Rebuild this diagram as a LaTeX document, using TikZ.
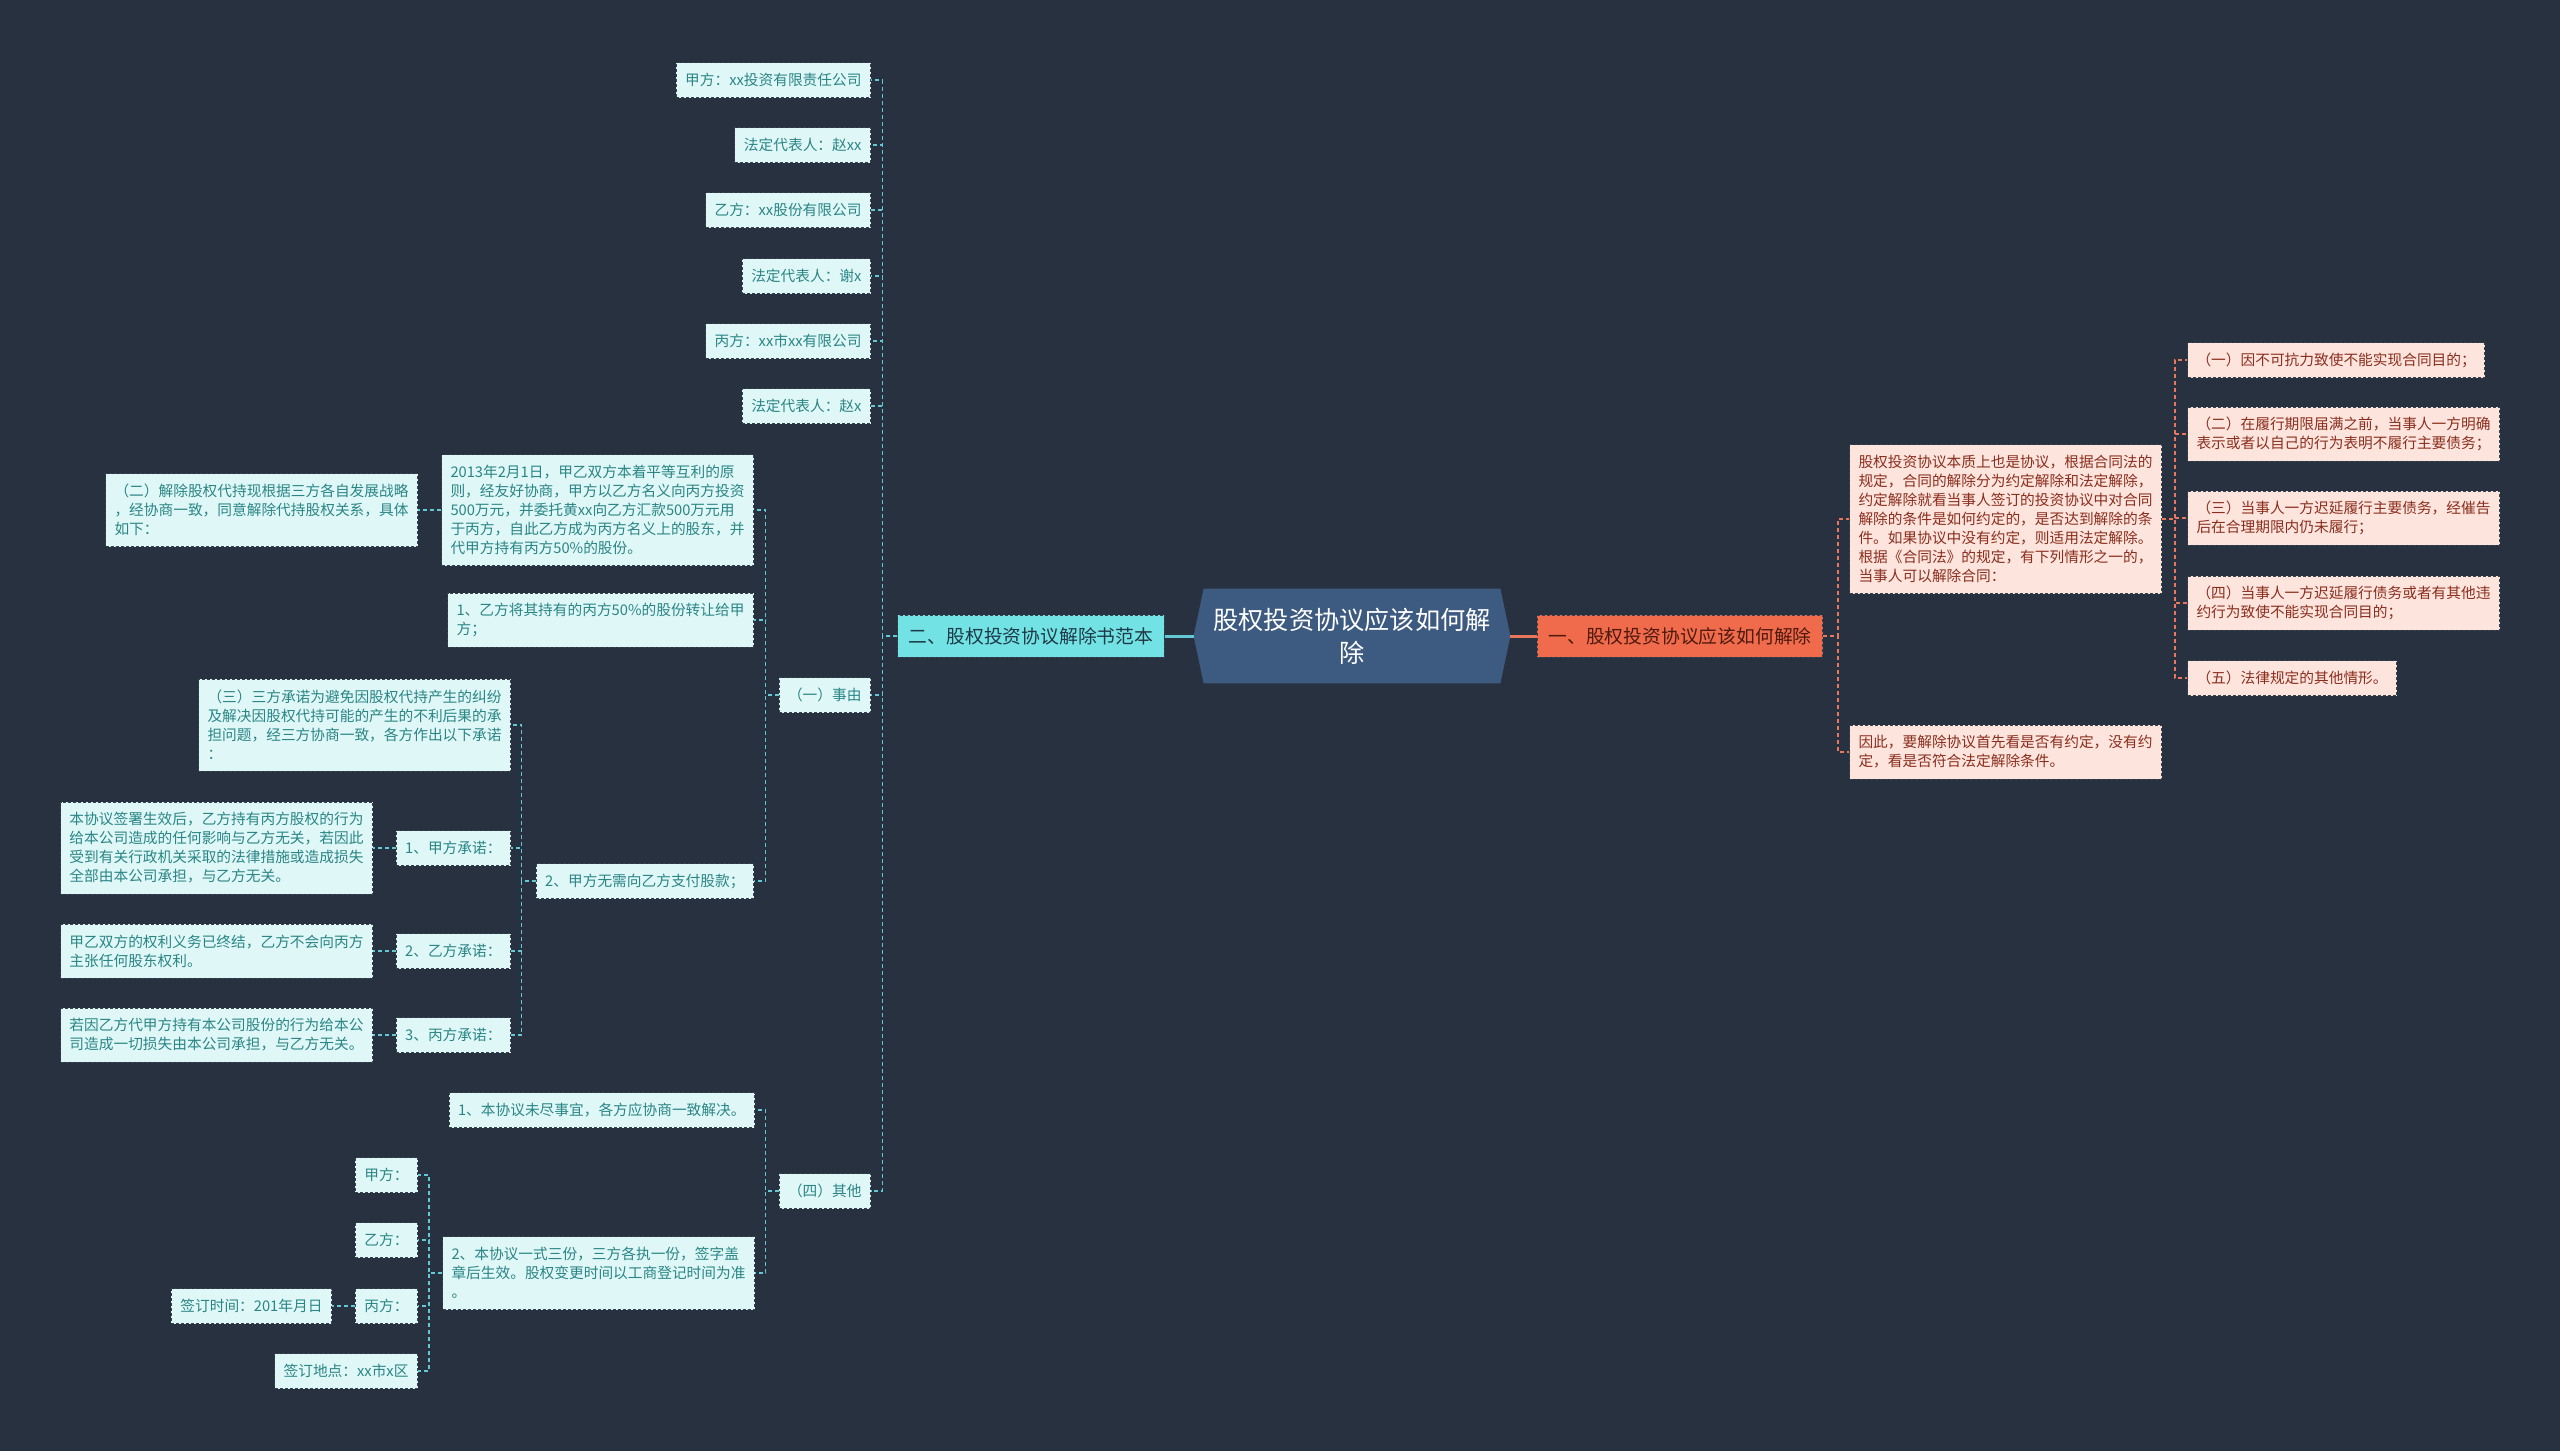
\documentclass[tikz,border=0pt]{standalone}
\usepackage{fontspec}
\setmainfont{Noto Sans CJK SC}
\usetikzlibrary{backgrounds}
\definecolor{bgc}{HTML}{283140}
\definecolor{cfill}{HTML}{3D5A80}
\definecolor{lbfill}{HTML}{72E2E4}
\definecolor{lbtext}{HTML}{1E3A46}
\definecolor{rbfill}{HTML}{F06B4C}
\definecolor{rbtext}{HTML}{4E1A0E}
\definecolor{lfill}{HTML}{E0F7F7}
\definecolor{ltext}{HTML}{2A8585}
\definecolor{rfill}{HTML}{FDE4DD}
\definecolor{rtext}{HTML}{8A2E1E}
\definecolor{lline}{HTML}{62C8D3}
\definecolor{rline}{HTML}{E8775C}
\definecolor{boxborder}{HTML}{36424E}
\newcommand\leaffont{\fontsize{7.35}{9.5}\selectfont}
\newcommand\branchfont{\fontsize{9.4}{12}\selectfont}
\newcommand\rootfont{\fontsize{12.6}{16.5}\selectfont}
\tikzset{
  box/.style={draw=boxborder, dash pattern=on 1.5pt off 1pt, line width=0.5pt,
    inner xsep=4.5pt, inner ysep=0pt, align=left, font=\leaffont},
  nlines/.style={minimum height=#1*9.5pt+8pt},
  lleaf/.style={box, fill=lfill, text=ltext, anchor=east},
  rleaf/.style={box, fill=rfill, text=rtext, anchor=west},
  lbranch/.style={draw=boxborder, dash pattern=on 1.5pt off 1pt, line width=0.5pt,
    fill=lbfill, text=lbtext, font=\branchfont, inner xsep=5.5pt, inner ysep=0pt, minimum height=21pt},
  rbranch/.style={draw=boxborder, dash pattern=on 1.5pt off 1pt, line width=0.5pt,
    fill=rbfill, text=rbtext, font=\branchfont, inner xsep=5.5pt, inner ysep=0pt, minimum height=21pt},
  rootnode/.style={minimum width=158pt, minimum height=47pt, inner sep=0pt,
    text=white, font=\rootfont, align=center},
  lconn/.style={draw=lline, line width=0.75pt, dash pattern=on 2pt off 1.5pt},
  rconn/.style={draw=rline, line width=0.75pt, dash pattern=on 2pt off 1.5pt},
  lmain/.style={draw=lline, line width=1.5pt},
  rmain/.style={draw=rline, line width=1.5pt},
}
\begin{document}
\begin{tikzpicture}[x=0.5pt,y=-0.5pt]
\useasboundingbox (0,0) rectangle (2560,1451);
\begin{pgfonlayer}{background}
\fill[bgc] (0,0) rectangle (2560,1451);
\end{pgfonlayer}

% root
\node[rootnode] (root) at (1352,636) {股权投资协议应该如何解\\除};
\begin{pgfonlayer}{background}
\fill[cfill] ([xshift=5pt]root.north west) -- (root.west) -- ([xshift=5pt]root.south west)
  -- ([xshift=-5pt]root.south east) -- (root.east) -- ([xshift=-5pt]root.north east) -- cycle;
\end{pgfonlayer}

% branches
\node[lbranch] (L) at (1031,636) {二、股权投资协议解除书范本};
\node[rbranch] (R) at (1680,636) {一、股权投资协议应该如何解除};
\draw[lmain] (root.west) -- (L.east);
\draw[rmain] (root.east) -- (R.west);

% left level 1
\node[lleaf, nlines=1] (A1) at (871,80) {甲方：xx投资有限责任公司};
\node[lleaf, nlines=1] (A2) at (871,145) {法定代表人：赵xx};
\node[lleaf, nlines=1] (A3) at (871,210) {乙方：xx股份有限公司};
\node[lleaf, nlines=1] (A4) at (871,276) {法定代表人：谢x};
\node[lleaf, nlines=1] (A5) at (871,341) {丙方：xx市xx有限公司};
\node[lleaf, nlines=1] (A6) at (871,406) {法定代表人：赵x};
\node[lleaf, nlines=1] (A7) at (871,695) {（一）事由};
\node[lleaf, nlines=1] (A8) at (871,1191) {（四）其他};
\foreach \c in {A1,A2,A3,A4,A5,A6,A7,A8}
  \draw[lconn] (L.west) -- ++(-15,0) |- (\c.east);

% children of (一)事由
\node[lleaf, nlines=5] (B1) at (754,510) {2013年2月1日，甲乙双方本着平等互利的原\\则，经友好协商，甲方以乙方名义向丙方投资\\500万元，并委托黄xx向乙方汇款500万元用\\于丙方，自此乙方成为丙方名义上的股东，并\\代甲方持有丙方50\%的股份。};
\node[lleaf, nlines=2] (B2) at (754,620) {1、乙方将其持有的丙方50\%的股份转让给甲\\方；};
\node[lleaf, nlines=1] (B3) at (754,881) {2、甲方无需向乙方支付股款；};
\foreach \c in {B1,B2,B3}
  \draw[lconn] (A7.west) -- ++(-13,0) |- (\c.east);

\node[lleaf, nlines=3] (B4) at (418,510) {（二）解除股权代持现根据三方各自发展战略\\，经协商一致，同意解除代持股权关系，具体\\如下：};
\draw[lconn] (B1.west) -- (B4.east);

% children of 2、甲方无需...
\node[lleaf, nlines=4] (B5) at (511,725) {（三）三方承诺为避免因股权代持产生的纠纷\\及解决因股权代持可能的产生的不利后果的承\\担问题，经三方协商一致，各方作出以下承诺\\：};
\node[lleaf, nlines=1] (B6) at (511,848) {1、甲方承诺：};
\node[lleaf, nlines=1] (B7) at (511,951) {2、乙方承诺：};
\node[lleaf, nlines=1] (B8) at (511,1035) {3、丙方承诺：};
\foreach \c in {B5,B6,B7,B8}
  \draw[lconn] (B3.west) -- ++(-14,0) |- (\c.east);

\node[lleaf, nlines=4] (B9) at (373,848) {本协议签署生效后，乙方持有丙方股权的行为\\给本公司造成的任何影响与乙方无关，若因此\\受到有关行政机关采取的法律措施或造成损失\\全部由本公司承担，与乙方无关。};
\node[lleaf, nlines=2] (B10) at (373,951) {甲乙双方的权利义务已终结，乙方不会向丙方\\主张任何股东权利。};
\node[lleaf, nlines=2] (B11) at (373,1035) {若因乙方代甲方持有本公司股份的行为给本公\\司造成一切损失由本公司承担，与乙方无关。};
\draw[lconn] (B6.west) -- (B9.east);
\draw[lconn] (B7.west) -- (B10.east);
\draw[lconn] (B8.west) -- (B11.east);

% children of (四)其他
\node[lleaf, nlines=1] (C1) at (755,1110) {1、本协议未尽事宜，各方应协商一致解决。};
\node[lleaf, nlines=3] (C2) at (755,1273) {2、本协议一式三份，三方各执一份，签字盖\\章后生效。股权变更时间以工商登记时间为准\\。};
\foreach \c in {C1,C2}
  \draw[lconn] (A8.west) -- ++(-13,0) |- (\c.east);

\node[lleaf, nlines=1] (C3) at (418,1175) {甲方：};
\node[lleaf, nlines=1] (C4) at (418,1240) {乙方：};
\node[lleaf, nlines=1] (C5) at (418,1306) {丙方：};
\node[lleaf, nlines=1] (C6) at (418,1371) {签订地点：xx市x区};
\foreach \c in {C3,C4,C5,C6}
  \draw[lconn] (C2.west) -- ++(-13,0) |- (\c.east);
\node[lleaf, nlines=1] (C7) at (332,1306) {签订时间：201年月日};
\draw[lconn] (C5.west) -- (C7.east);

% right side
\node[rleaf, nlines=7] (R1) at (1849,519) {股权投资协议本质上也是协议，根据合同法的\\规定，合同的解除分为约定解除和法定解除，\\约定解除就看当事人签订的投资协议中对合同\\解除的条件是如何约定的，是否达到解除的条\\件。如果协议中没有约定，则适用法定解除。\\根据《合同法》的规定，有下列情形之一的，\\当事人可以解除合同：};
\node[rleaf, nlines=2] (R2) at (1849,752) {因此，要解除协议首先看是否有约定，没有约\\定，看是否符合法定解除条件。};
\foreach \c in {R1,R2}
  \draw[rconn] (R.east) -- ++(15,0) |- (\c.west);

\node[rleaf, nlines=1] (R3) at (2187,360) {（一）因不可抗力致使不能实现合同目的；};
\node[rleaf, nlines=2] (R4) at (2187,434) {（二）在履行期限届满之前，当事人一方明确\\表示或者以自己的行为表明不履行主要债务；};
\node[rleaf, nlines=2] (R5) at (2187,518) {（三）当事人一方迟延履行主要债务，经催告\\后在合理期限内仍未履行；};
\node[rleaf, nlines=2] (R6) at (2187,603) {（四）当事人一方迟延履行债务或者有其他违\\约行为致使不能实现合同目的；};
\node[rleaf, nlines=1] (R7) at (2187,678) {（五）法律规定的其他情形。};
\foreach \c in {R3,R4,R5,R6,R7}
  \draw[rconn] (R1.east) -- ++(13,0) |- (\c.west);
\end{tikzpicture}
\end{document}
